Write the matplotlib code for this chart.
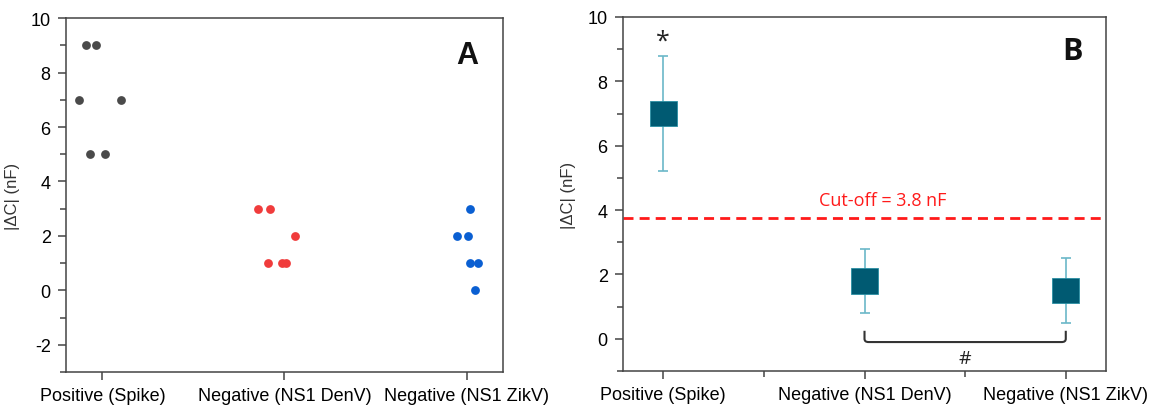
import matplotlib
matplotlib.use("Agg")
import matplotlib.pyplot as plt
from matplotlib.ticker import MultipleLocator
from matplotlib.path import Path
from matplotlib.patches import PathPatch

# ---------------- data ----------------
categories = ["Positive (Spike)", "Negative (NS1 DenV)", "Negative (NS1 ZikV)"]

spike_x = [0.912, 0.967, 0.874, 1.104, 0.934, 1.016]
spike_y = [9, 9, 7, 7, 5, 5]
denv_x = [1.857, 1.918, 2.060, 1.907, 1.989, 2.011]
denv_y = [3, 3, 2, 1, 1, 1]
zikv_x = [3.016, 2.945, 3.005, 3.060, 3.016, 3.044]
zikv_y = [3, 2, 2, 1, 1, 0]

# Panel B: mean, box half-height, whisker half-length
means = [7.0, 1.8, 1.5]
box_half = [0.4, 0.4, 0.4]
whisker = [1.8, 1.0, 1.0]
cutoff = 3.75
cutoff_label = "Cut-off = 3.8 nF"

plt.rcParams['font.family'] = ['Liberation Sans', 'DejaVu Sans']
plt.rcParams['axes.unicode_minus'] = False

fig = plt.figure(figsize=(11.49, 4.06), dpi=100)
axA = fig.add_axes([0.0574, 0.081, 0.3804, 0.872])
axB = fig.add_axes([0.5422, 0.0837, 0.4204, 0.872])

spine_col = "#444444"
pos = [1, 2, 3]

def style(ax, ylo, yhi):
    for s in ax.spines.values():
        s.set_color(spine_col)
        s.set_linewidth(1.1)
    ax.set_xlim(0.8, 3.2)
    ax.set_ylim(ylo, yhi)
    ax.set_xticks(pos)
    ax.set_xticklabels(categories, fontsize=13)
    ax.yaxis.set_major_locator(MultipleLocator(2))
    ax.yaxis.set_minor_locator(MultipleLocator(1))
    ax.tick_params(axis='both', which='major', direction='out', length=6,
                   width=1.1, color=spine_col, labelsize=13, pad=5)
    ax.tick_params(axis='both', which='minor', direction='out', length=4,
                   width=1.1, color=spine_col)
    ax.tick_params(top=False, right=False)
    ax.set_ylabel("|ΔC| (nF)", fontsize=12, color="#333333")

# ---------------- Panel A ----------------
style(axA, -3, 10)
axA.scatter(spike_x, spike_y, s=40, color="#4a4a4a", zorder=3, linewidths=0)
axA.scatter(denv_x, denv_y, s=40, color="#f03c3c", zorder=3, linewidths=0)
axA.scatter(zikv_x, zikv_y, s=40, color="#0a5fd2", zorder=3, linewidths=0)
axA.text(0.918, 0.895, "A", transform=axA.transAxes, fontsize=22,
         fontweight='bold', ha='center', va='center', color="#111111")
axA.yaxis.set_label_coords(-0.105, 0.5)

# ---------------- Panel B ----------------
style(axB, -1, 10)
axB.xaxis.set_minor_locator(MultipleLocator(0.5))
axB.tick_params(axis='x', which='minor', length=4)
axB.errorbar(pos, means, yerr=whisker, fmt='none', ecolor="#6bb8c8",
             elinewidth=1.2, capsize=3.5, capthick=1.2, zorder=2)
axB.bar(pos, [2 * b for b in box_half], bottom=[m - b for m, b in zip(means, box_half)],
        width=0.133, color="#005a72", edgecolor="#2a8fa3", linewidth=0.6, zorder=3)
axB.axhline(cutoff, color="#ff1a1a", lw=2.0, dashes=(3.6, 2.2), zorder=1)
axB.text(2.09, 4.3, cutoff_label, color="#ff1a1a", fontsize=13,
         family=['Open Sans', 'DejaVu Sans'], ha='center', va='center')
axB.text(1.0, 9.25, "*", fontsize=18, ha='center', va='center', color="#222222",
         family=['Open Sans', 'DejaVu Sans'])
axB.text(0.93, 0.904, "B", transform=axB.transAxes, fontsize=22,
         fontweight='bold', ha='center', va='center', color="#111111",
         family=['Open Sans', 'DejaVu Sans'])
axB.yaxis.set_label_coords(-0.098, 0.5)

# significance bracket between DenV and ZikV
x1, x2, ytop, ybot, r = pos[1], pos[2], 0.25, -0.1, 0.02
verts = [(x1, ytop), (x1, ybot + 0.1), (x1, ybot), (x1 + r, ybot),
         (x2 - r, ybot), (x2, ybot), (x2, ybot + 0.1), (x2, ytop)]
codes = [Path.MOVETO, Path.LINETO, Path.CURVE3, Path.CURVE3,
         Path.LINETO, Path.CURVE3, Path.CURVE3, Path.LINETO]
axB.add_patch(PathPatch(Path(verts, codes), fill=False, edgecolor="#333333",
                        lw=1.5, zorder=2))
axB.text((x1 + x2) / 2, -0.6, "#", fontsize=14, ha='center', va='center',
         color="#222222", family=['Open Sans', 'DejaVu Sans'])

fig.savefig("out.png", dpi=100)
